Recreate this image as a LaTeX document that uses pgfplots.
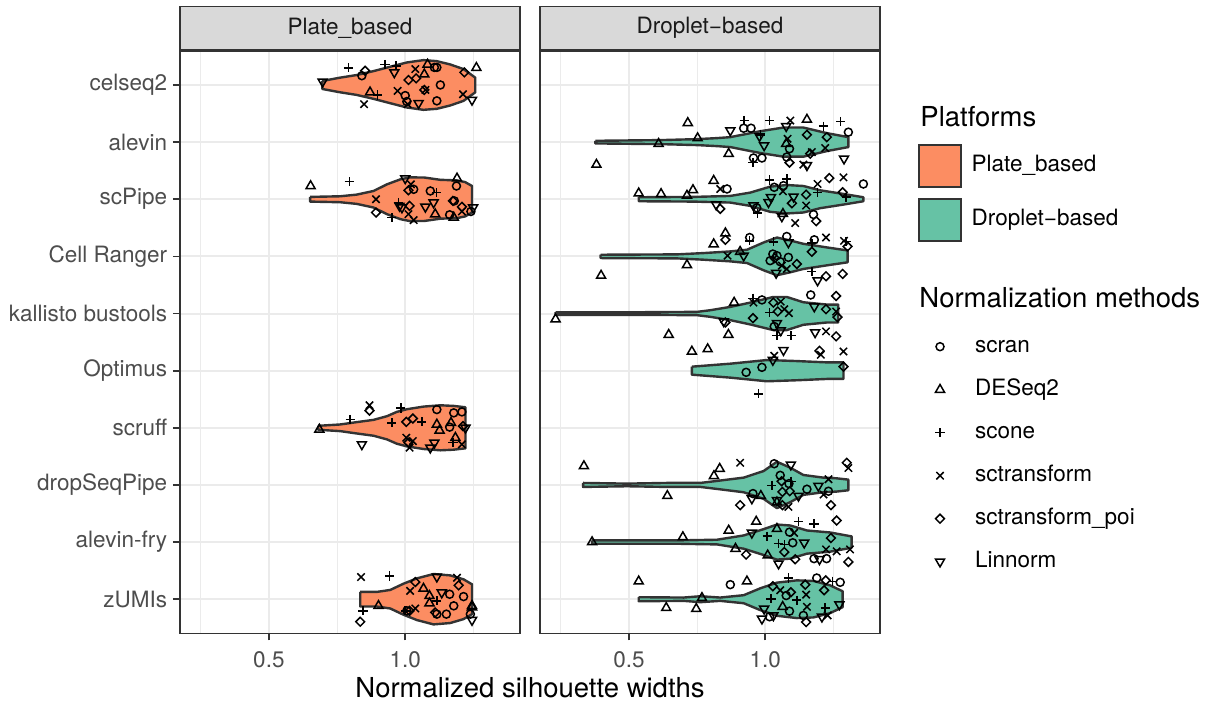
\documentclass[border=0pt]{standalone}
\usepackage{pgfplots}
\pgfplotsset{compat=1.18}
\usepackage{fontspec}
\setmainfont{TeX Gyre Heros}
\definecolor{plate}{HTML}{FC8D62}
\definecolor{droplet}{HTML}{66C2A5}
\definecolor{gridc}{HTML}{EBEBEB}
\definecolor{g20}{HTML}{333333}
\definecolor{g30}{HTML}{4D4D4D}
\definecolor{stripc}{HTML}{D9D9D9}
\definecolor{g10}{HTML}{1A1A1A}
\newcommand{\fs}{\fontsize{11.25}{13.5}\selectfont}
\newcommand{\ft}{\fontsize{13.75}{16.5}\selectfont}
\pgfdeclareplotmark{tridown}{%
  \pgfpathmoveto{\pgfqpoint{0pt}{-\pgfplotmarksize}}%
  \pgfpathlineto{\pgfqpoint{0.866\pgfplotmarksize}{0.5\pgfplotmarksize}}%
  \pgfpathlineto{\pgfqpoint{-0.866\pgfplotmarksize}{0.5\pgfplotmarksize}}%
  \pgfpathclose\pgfusepathqstroke}
\pgfdeclareplotmark{triup}{%
  \pgfpathmoveto{\pgfqpoint{0pt}{\pgfplotmarksize}}%
  \pgfpathlineto{\pgfqpoint{0.866\pgfplotmarksize}{-0.5\pgfplotmarksize}}%
  \pgfpathlineto{\pgfqpoint{-0.866\pgfplotmarksize}{-0.5\pgfplotmarksize}}%
  \pgfpathclose\pgfusepathqstroke}
\pgfdeclareplotmark{dia}{%
  \pgfpathmoveto{\pgfqpoint{0pt}{\pgfplotmarksize}}%
  \pgfpathlineto{\pgfqpoint{\pgfplotmarksize}{0pt}}%
  \pgfpathlineto{\pgfqpoint{0pt}{-\pgfplotmarksize}}%
  \pgfpathlineto{\pgfqpoint{-\pgfplotmarksize}{0pt}}%
  \pgfpathclose\pgfusepathqstroke}
\tikzset{
  mkscran/.style={mark=o, mark size=2pt, draw=black, line width=0.75pt},
  mkdeseq/.style={mark=triup, mark size=2.6pt, draw=black, line width=0.75pt},
  mkscone/.style={mark=+, mark size=2.3pt, draw=black, line width=0.75pt},
  mksct/.style={mark=x, mark size=2.6pt, draw=black, line width=0.75pt},
  mkpoi/.style={mark=dia, mark size=2.2pt, draw=black, line width=0.75pt},
  mklin/.style={mark=tridown, mark size=2.6pt, draw=black, line width=0.75pt},
}
\pgfplotsset{
  every axis title shift=0pt,
  panel/.style={
    scale only axis, width=170pt, height=291.4pt,
    xmin=0.174, xmax=1.421, ymin=0.4, ymax=10.6, y dir=reverse,
    axis line style={g20, line width=0.85pt},
    xtick={0.5,1.0}, minor xtick={0.25,0.75,1.25},
    ytick={1,2,3,4,5,6,7,8,9,10},
    grid=both,
    major grid style={gridc, line width=1pt},
    minor grid style={gridc, line width=0.5pt},
    tick align=outside, major tick length=3.5pt, minor tick length=0pt,
    tick pos=left,
    tick style={g20, line width=0.85pt},
    xticklabel style={font=\fs, text=g30, inner sep=0pt, yshift=-5.5pt},
    /pgf/number format/assume math mode=true,
    /pgf/number format/fixed, /pgf/number format/precision=1, /pgf/number format/fixed zerofill,
    title style={at={(0.5,1)}, anchor=south, draw=g20, line width=0.85pt, fill=stripc,
      minimum width=170pt, minimum height=21.7pt, inner sep=0pt, font=\fs, text=g10, yshift=0pt},
  },
  violin/.style={draw=g20, line width=1.2pt, line join=round},
  pts/.style={scatter, only marks, scatter src=explicit symbolic,
    scatter/classes={
      a={mkscran}, b={mkdeseq}, c={mkscone}, d={mksct}, e={mkpoi}, f={mklin}
    }},
}
\begin{document}
\begin{tikzpicture}
\useasboundingbox (0,0) rectangle (605.5pt,352pt);
% ---------------- left panel
\begin{axis}[panel, at={(90pt,35.25pt)}, anchor=south west, title={Plate\_based},
  yticklabels={celseq2,alevin,scPipe,Cell Ranger,kallisto bustools,Optimus,scruff,dropSeqPipe,alevin-fry,zUMIs},
  yticklabel style={font=\fs, text=g30, inner sep=0pt, xshift=-2.75pt}]
\addplot[violin, fill=plate] table[x=x, y expr=1+\thisrow{w}] {
x w
0.696 -0.07
0.761 -0.128
0.822 -0.174
0.884 -0.243
0.945 -0.319
1.006 -0.394
1.067 -0.435
1.116 -0.417
1.165 -0.359
1.214 -0.278
1.257 -0.128
1.257 0.128
1.214 0.278
1.165 0.359
1.116 0.417
1.067 0.435
1.006 0.394
0.945 0.319
0.884 0.243
0.822 0.174
0.761 0.128
0.696 0.07
0.696 -0.07
};
\addplot[violin, fill=plate] table[x=x, y expr=3+\thisrow{w}] {
x w
0.651 -0.041
0.761 -0.052
0.822 -0.081
0.884 -0.145
0.933 -0.261
0.982 -0.348
1.018 -0.383
1.070 -0.380
1.129 -0.340
1.190 -0.330
1.220 -0.300
1.245 -0.232
1.245 0.232
1.220 0.300
1.190 0.330
1.129 0.340
1.070 0.380
1.018 0.383
0.982 0.348
0.933 0.261
0.884 0.145
0.822 0.081
0.761 0.052
0.651 0.041
0.651 -0.041
};
\addplot[violin, fill=plate] table[x=x, y expr=7+\thisrow{w}] {
x w
0.681 -0.035
0.761 -0.058
0.822 -0.099
0.884 -0.139
0.933 -0.203
0.969 -0.278
1.006 -0.325
1.067 -0.371
1.129 -0.394
1.178 -0.383
1.221 -0.359
1.221 0.359
1.178 0.383
1.129 0.394
1.067 0.371
1.006 0.325
0.969 0.278
0.933 0.203
0.884 0.139
0.822 0.099
0.761 0.058
0.681 0.035
0.681 -0.035
};
\addplot[violin, fill=plate] table[x=x, y expr=10+\thisrow{w}] {
x w
0.835 -0.128
0.896 -0.128
0.945 -0.162
0.994 -0.272
1.043 -0.365
1.104 -0.441
1.165 -0.417
1.214 -0.348
1.245 -0.261
1.245 0.261
1.214 0.348
1.165 0.417
1.104 0.441
1.043 0.365
0.994 0.272
0.945 0.162
0.896 0.128
0.835 0.128
0.835 -0.128
};
\addplot[pts] table[x=x, y expr=\thisrow{r}+\thisrow{o}, meta=m] {
x r o m
0.792 1 -0.301 c
0.853 1 -0.249 e
0.841 1 -0.162 a
0.926 1 -0.359 c
0.967 1 -0.336 c
0.960 1 -0.220 f
1.082 1 -0.359 b
1.107 1 -0.307 a
1.116 1 -0.307 a
1.037 1 -0.278 d
1.070 1 -0.186 b
1.012 1 -0.087 e
1.040 1 -0.116 e
1.129 1 0.000 a
1.070 1 0.087 e
1.074 1 0.087 d
0.697 1 -0.058 f
0.871 1 0.128 b
0.898 1 0.174 c
0.972 1 0.104 d
1.000 1 0.186 a
1.006 1 0.290 a
1.009 1 0.336 d
1.049 1 0.319 f
1.116 1 0.278 a
0.849 1 0.336 d
1.217 1 -0.220 e
1.261 1 -0.301 b
1.212 1 0.162 d
1.245 1 0.261 f
0.653 3 -0.232 b
0.795 3 -0.307 c
1.000 3 -0.365 f
1.021 3 -0.261 d
1.012 3 -0.157 e
1.031 3 -0.174 a
0.893 3 0.000 d
0.893 3 0.232 e
0.951 3 0.319 c
0.975 3 0.058 c
0.979 3 0.116 f
0.988 3 0.145 f
1.016 3 0.116 e
1.012 3 0.261 d
1.031 3 0.365 d
1.092 3 -0.145 a
1.114 3 -0.116 c
1.104 3 0.058 f
1.074 3 0.133 f
1.110 3 0.261 b
1.190 3 -0.365 b
1.188 3 -0.232 a
1.175 3 0.029 e
1.180 3 0.029 a
1.163 3 0.272 a
1.178 3 0.319 b
1.208 3 0.133 e
1.208 3 0.214 d
1.249 3 0.145 f
1.241 3 0.214 a
0.685 7 0.029 b
0.798 7 -0.145 c
0.869 7 -0.394 d
0.869 7 -0.301 e
0.984 7 -0.348 c
0.841 7 0.290 f
0.951 7 -0.087 c
1.004 7 -0.104 e
1.028 7 -0.162 e
1.061 7 -0.104 c
1.116 7 -0.319 a
1.178 7 -0.261 a
1.208 7 -0.278 a
1.116 7 -0.058 b
1.126 7 0.046 b
1.168 7 -0.087 b
1.163 7 -0.012 a
1.212 7 -0.029 e
1.221 7 0.000 f
1.004 7 0.174 d
1.012 7 0.261 e
1.016 7 0.348 d
1.028 7 0.232 d
1.092 7 0.348 f
1.107 7 0.261 f
1.184 7 0.174 b
1.175 7 0.261 c
1.208 7 0.290 d
0.838 10 -0.388 d
0.942 10 -0.406 c
0.835 10 0.394 e
0.845 10 0.203 c
0.902 10 0.116 b
1.000 10 0.203 c
1.006 10 0.203 a
1.018 10 -0.145 d
1.037 10 -0.301 e
1.067 10 -0.186 b
1.089 10 -0.058 b
1.089 10 0.070 b
1.116 10 0.029 c
1.134 10 -0.116 f
1.163 10 -0.087 a
1.214 10 -0.046 a
1.116 10 -0.394 f
1.190 10 -0.377 d
1.196 10 -0.243 e
1.178 10 0.116 a
1.151 10 0.261 a
1.110 10 0.232 e
1.116 10 0.261 a
1.037 10 0.162 d
1.016 10 0.203 e
1.245 10 0.116 b
1.245 10 0.140 b
1.245 10 0.365 f
1.239 10 0.261 a
};
\end{axis}
% ---------------- right panel
\begin{axis}[panel, at={(270pt,35.25pt)}, anchor=south west, title={Droplet−based},
  yticklabels={}, ytick style={draw=none}]
\addplot[violin, fill=droplet] table[x=x, y expr=2+\thisrow{w}] {
x w
0.377 -0.023
0.615 -0.035
0.749 -0.052
0.823 -0.070
0.872 -0.087
0.982 -0.191
1.067 -0.255
1.140 -0.255
1.226 -0.157
1.305 -0.087
1.305 0.087
1.226 0.157
1.140 0.255
1.067 0.255
0.982 0.191
0.872 0.087
0.823 0.070
0.749 0.052
0.615 0.035
0.377 0.023
0.377 -0.023
};
\addplot[violin, fill=droplet] table[x=x, y expr=3+\thisrow{w}] {
x w
0.536 -0.035
0.737 -0.041
0.872 -0.058
0.945 -0.116
1.018 -0.220
1.079 -0.249
1.140 -0.232
1.201 -0.157
1.287 -0.093
1.360 -0.035
1.360 0.035
1.287 0.093
1.201 0.157
1.140 0.232
1.079 0.249
1.018 0.220
0.945 0.116
0.872 0.058
0.737 0.041
0.536 0.035
0.536 -0.035
};
\addplot[violin, fill=droplet] table[x=x, y expr=4+\thisrow{w}] {
x w
0.396 -0.029
0.676 -0.035
0.774 -0.058
0.872 -0.087
0.933 -0.116
0.994 -0.243
1.043 -0.330
1.092 -0.278
1.140 -0.220
1.226 -0.157
1.302 -0.104
1.302 0.104
1.226 0.157
1.140 0.220
1.092 0.278
1.043 0.330
0.994 0.243
0.933 0.116
0.872 0.087
0.774 0.058
0.676 0.035
0.396 0.029
0.396 -0.029
};
\addplot[violin, fill=droplet] table[x=x, y expr=5+\thisrow{w}] {
x w
0.231 -0.023
0.554 -0.023
0.750 -0.029
0.799 -0.058
0.872 -0.116
0.945 -0.191
1.030 -0.290
1.079 -0.290
1.140 -0.197
1.226 -0.157
1.268 -0.157
1.268 0.157
1.226 0.157
1.140 0.197
1.079 0.290
1.030 0.290
0.945 0.191
0.872 0.116
0.799 0.058
0.750 0.029
0.554 0.023
0.231 0.023
0.231 -0.023
};
\addplot[violin, fill=droplet] table[x=x, y expr=6+\thisrow{w}] {
x w
0.731 -0.070
0.872 -0.122
1.006 -0.186
1.116 -0.168
1.226 -0.145
1.287 -0.145
1.287 0.145
1.226 0.145
1.116 0.168
1.006 0.186
0.872 0.122
0.731 0.070
0.731 -0.070
};
\addplot[violin, fill=droplet] table[x=x, y expr=8+\thisrow{w}] {
x w
0.332 -0.035
0.493 -0.023
0.640 -0.035
0.762 -0.035
0.823 -0.070
0.921 -0.128
0.994 -0.243
1.043 -0.406
1.092 -0.301
1.140 -0.174
1.213 -0.128
1.262 -0.116
1.305 -0.093
1.305 0.093
1.262 0.116
1.213 0.128
1.140 0.174
1.092 0.301
1.043 0.406
0.994 0.243
0.921 0.128
0.823 0.070
0.762 0.035
0.640 0.035
0.493 0.023
0.332 0.035
0.332 -0.035
};
\addplot[violin, fill=droplet] table[x=x, y expr=9+\thisrow{w}] {
x w
0.365 -0.029
0.676 -0.029
0.823 -0.041
0.921 -0.116
0.994 -0.226
1.043 -0.307
1.092 -0.290
1.153 -0.203
1.238 -0.168
1.317 -0.099
1.317 0.099
1.238 0.168
1.153 0.203
1.092 0.290
1.043 0.307
0.994 0.226
0.921 0.116
0.823 0.041
0.676 0.029
0.365 0.029
0.365 -0.029
};
\addplot[violin, fill=droplet] table[x=x, y expr=10+\thisrow{w}] {
x w
0.536 -0.035
0.701 -0.029
0.762 -0.052
0.835 -0.029
0.921 -0.070
0.982 -0.191
1.043 -0.290
1.116 -0.330
1.177 -0.319
1.238 -0.243
1.284 -0.139
1.284 0.139
1.238 0.243
1.177 0.319
1.116 0.330
1.043 0.290
0.982 0.191
0.921 0.070
0.835 0.029
0.762 0.052
0.701 0.029
0.536 0.035
0.536 -0.035
};
\addplot[pts] table[x=x, y expr=\thisrow{r}+\thisrow{o}, meta=m] {
x r o m
0.381 2 0.394 b
0.609 2 0.029 b
0.716 2 -0.336 b
0.752 2 -0.070 b
0.866 2 0.203 b
0.872 2 -0.203 f
0.923 2 -0.377 c
0.921 2 -0.243 a
0.948 2 -0.243 a
1.016 2 -0.377 c
1.092 2 -0.377 d
1.153 2 -0.394 b
1.214 2 -0.278 c
1.277 2 -0.359 c
1.305 2 -0.174 a
1.077 2 -0.278 f
0.979 2 -0.104 f
0.982 2 -0.128 c
0.996 2 0.058 f
1.153 2 -0.128 e
1.226 2 -0.087 e
1.082 2 -0.058 d
1.077 2 0.029 b
1.089 2 0.116 a
1.220 2 0.104 d
0.957 2 0.278 a
0.955 2 0.359 c
0.988 2 0.278 a
1.079 2 0.261 a
1.089 2 0.359 e
1.140 2 0.394 d
1.153 2 0.406 f
1.165 2 0.203 e
1.171 2 0.174 d
1.289 2 0.290 f
0.536 3 -0.104 b
0.618 3 -0.093 b
0.713 3 -0.064 b
0.735 3 -0.162 b
0.811 3 -0.325 b
0.835 3 -0.180 d
0.860 3 -0.180 a
0.820 3 0.093 f
0.835 3 0.168 e
1.016 3 -0.336 c
1.079 3 -0.354 c
1.033 3 -0.209 a
1.067 3 -0.238 a
1.065 3 -0.139 d
1.021 3 -0.035 f
1.012 3 0.052 f
1.104 3 -0.046 f
1.098 3 0.070 e
0.957 3 0.110 f
0.969 3 0.151 a
0.972 3 0.243 c
1.065 3 0.255 b
1.061 3 0.301 f
1.110 3 0.417 d
1.150 3 0.110 d
1.150 3 -0.081 e
1.177 3 0.267 a
1.187 3 0.383 e
1.192 3 -0.267 d
1.192 3 -0.122 c
1.235 3 -0.371 e
1.287 3 -0.383 d
1.284 3 -0.122 e
1.297 3 -0.035 c
1.360 3 -0.267 a
0.398 4 0.336 b
0.713 4 0.151 b
0.811 4 -0.214 b
0.854 4 -0.406 b
0.854 4 -0.290 e
0.943 4 -0.330 a
0.943 4 -0.272 c
0.908 4 -0.081 b
0.921 4 -0.012 f
0.862 4 -0.012 d
1.030 4 -0.255 c
1.079 4 -0.348 a
1.085 4 -0.244 f
1.028 4 -0.041 a
1.043 4 -0.012 a
1.018 4 0.075 a
1.055 4 0.093 a
1.085 4 0.017 a
1.035 4 0.030 e
1.061 4 0.162 d
1.040 4 0.290 f
1.079 4 0.220 d
1.116 4 0.133 e
1.180 4 -0.290 a
1.171 4 -0.232 c
1.223 4 -0.330 d
1.171 4 -0.081 e
1.289 4 -0.272 d
1.297 4 -0.260 c
1.302 4 -0.174 e
1.171 4 0.267 c
1.192 4 0.423 f
1.223 4 0.348 e
1.284 4 0.307 e
0.231 5 0.099 b
0.646 5 0.371 b
0.865 5 0.371 b
0.886 5 -0.191 b
0.848 5 0.139 f
0.854 5 0.155 e
0.955 5 -0.267 c
0.957 5 -0.191 d
0.988 5 -0.238 a
1.030 5 -0.191 e
1.057 5 -0.209 d
0.955 5 0.081 e
1.016 5 -0.017 c
1.046 5 -0.035 e
1.087 5 -0.006 d
1.070 5 -0.075 d
1.043 5 0.168 f
1.033 5 0.226 a
1.057 5 0.296 f
1.043 5 0.388 c
1.095 5 0.388 c
1.167 5 -0.325 a
1.180 5 -0.122 f
1.223 5 -0.075 e
1.260 5 -0.307 e
1.260 5 -0.035 d
1.265 5 0.064 e
1.183 5 0.330 f
1.223 5 0.313 d
1.260 5 0.400 e
0.731 6 -0.336 b
0.789 6 -0.377 b
0.930 6 0.029 a
0.988 6 -0.058 a
0.976 6 0.406 c
1.033 6 -0.261 d
1.028 6 -0.186 f
1.067 6 -0.359 f
1.199 6 -0.348 e
1.204 6 -0.278 d
1.287 6 -0.336 d
1.287 6 -0.070 e
0.335 8 -0.330 b
0.641 8 0.191 b
0.812 8 -0.157 b
0.833 8 -0.284 b
0.908 8 -0.388 d
0.908 8 0.354 e
0.951 8 0.238 f
0.955 8 0.151 a
0.984 8 0.191 b
1.033 8 -0.371 a
1.094 8 -0.354 f
1.024 8 0.006 c
1.055 8 -0.168 a
1.060 8 -0.064 e
1.087 8 -0.023 a
1.095 8 -0.064 c
1.063 8 0.122 e
1.090 8 0.110 e
1.043 8 0.267 f
1.043 8 0.305 b
1.063 8 0.354 e
1.085 8 0.383 d
1.122 8 0.191 f
1.153 8 0.075 a
1.195 8 0.017 f
1.232 8 -0.099 d
1.214 8 0.168 d
1.232 8 0.110 a
1.241 8 0.354 e
1.299 8 -0.388 e
1.305 8 -0.296 d
0.365 9 0.000 b
0.698 9 -0.087 b
0.866 9 -0.203 b
0.967 9 -0.359 b
0.951 9 -0.162 f
1.007 9 -0.104 c
0.891 9 0.116 b
0.930 9 0.220 e
1.043 9 -0.232 b
1.089 9 -0.174 a
1.106 9 -0.162 d
1.122 9 -0.359 c
1.179 9 -0.319 c
1.049 9 0.029 c
1.070 9 0.046 c
1.101 9 0.012 a
1.143 9 0.012 f
1.070 9 0.174 e
1.009 9 0.232 b
1.049 9 0.377 f
1.110 9 0.301 e
1.179 9 0.290 a
1.199 9 0.301 f
1.223 9 0.128 d
1.262 9 0.162 d
1.241 9 -0.070 e
1.262 9 -0.377 e
1.311 9 0.128 d
1.305 9 0.348 e
1.225 9 0.290 a
0.536 10 -0.313 b
0.637 10 0.151 b
0.747 10 0.168 b
0.768 10 -0.023 b
0.872 10 -0.255 a
0.933 10 -0.313 b
1.028 10 -0.226 e
1.055 10 -0.157 d
1.085 10 -0.371 c
1.094 10 -0.122 e
1.077 10 -0.064 a
1.021 10 -0.006 c
1.147 10 -0.255 e
1.150 10 -0.081 d
1.116 10 0.017 c
1.064 10 0.133 b
1.089 10 0.209 a
1.153 10 0.133 d
1.140 10 0.284 a
1.150 10 0.400 e
0.996 10 0.168 f
0.988 10 0.342 f
1.016 10 0.307 a
1.030 10 0.284 f
1.189 10 -0.371 a
1.222 10 -0.330 e
1.247 10 -0.313 c
1.275 10 -0.296 a
1.216 10 -0.157 e
1.220 10 0.151 c
1.229 10 0.284 d
1.208 10 0.307 f
1.272 10 0.093 f
};
\end{axis}
% ---------------- legend: platforms
\begin{axis}[at={(0pt,0pt)}, anchor=south west, scale only axis, width=605.5pt, height=352pt,
  xmin=0, xmax=1, ymin=0, ymax=1, hide axis,
  legend style={at={(0.75805,0.79545)}, anchor=north west, draw=none, fill=none,
    inner sep=0pt, outer sep=0pt, row sep=5.35pt, column sep=5pt, font=\fs,
    nodes={inner sep=0pt, text height=8pt, text depth=2.5pt}},
  legend cell align=left,
  legend image code/.code={\draw[#1] (0pt,-10.5pt) rectangle (21pt,10.5pt);}]
\addlegendimage{fill=plate, draw=g20, line width=0.85pt}
\addlegendentry{Plate\_based}
\addlegendimage{fill=droplet, draw=g20, line width=0.85pt}
\addlegendentry{Droplet−based}
\end{axis}
% ---------------- legend: methods
\begin{axis}[at={(0pt,0pt)}, anchor=south west, scale only axis, width=605.5pt, height=352pt,
  xmin=0, xmax=1, ymin=0, ymax=1, hide axis,
  legend style={at={(0.76796,0.52244)}, anchor=north west, draw=none, fill=none,
    inner sep=0pt, outer sep=0pt, row sep=11pt, column sep=12.5pt, font=\fs,
    nodes={inner sep=0pt, text height=8pt, text depth=2.5pt}},
  legend cell align=left,
  legend image code/.code={\path[draw=none, fill=none] (-5pt,-5pt) rectangle (5pt,5pt); \draw[#1] plot coordinates {(0pt,0pt)};}]
\addlegendimage{only marks, mkscran}
\addlegendentry{scran}
\addlegendimage{only marks, mkdeseq}
\addlegendentry{DESeq2}
\addlegendimage{only marks, mkscone}
\addlegendentry{scone}
\addlegendimage{only marks, mksct}
\addlegendentry{sctransform}
\addlegendimage{only marks, mkpoi}
\addlegendentry{sctransform\_poi}
\addlegendimage{only marks, mklin}
\addlegendentry{Linnorm}
\end{axis}
\node[anchor=west, inner sep=0pt, font=\ft] at (460pt,293.5pt) {Platforms};
\node[anchor=west, inner sep=0pt, font=\ft] at (459.5pt,203.35pt) {Normalization methods};
\node[inner sep=0pt, font=\ft] at (265pt,8pt) {Normalized silhouette widths};
\end{tikzpicture}
\end{document}
